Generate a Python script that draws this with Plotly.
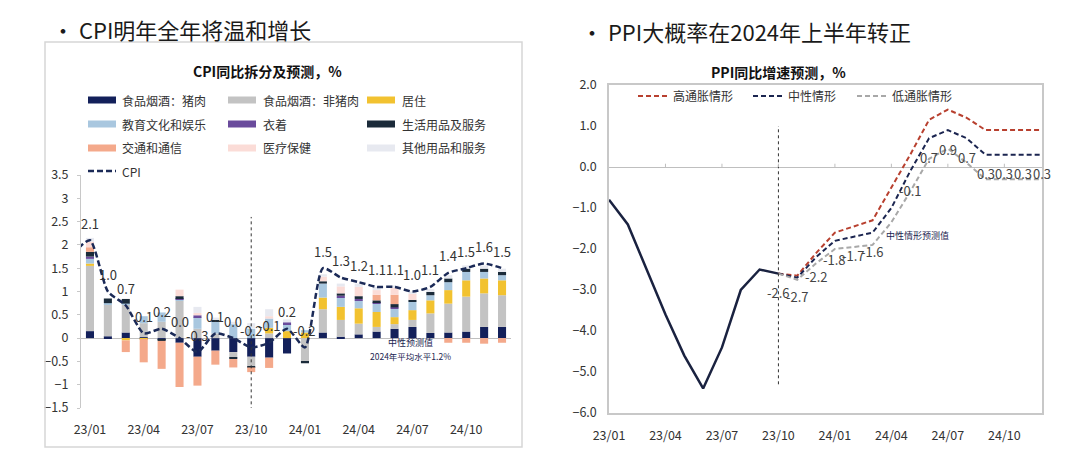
import plotly.graph_objects as go

# page body has an 8px margin: size the figure so it fits the 1080x473 window
OFF = 8
W, H = 1080 - OFF, 473 - OFF
def px(x):
    return (x - OFF) / W
def py(y):
    return 1 - (y - OFF) / H

# ---------------- data: CPI ----------------
months = ['23/01', '23/02', '23/03', '23/04', '23/05', '23/06', '23/07', '23/08', '23/09', '23/10', '23/11', '23/12',
          '24/01', '24/02', '24/03', '24/04', '24/05', '24/06', '24/07', '24/08', '24/09', '24/10', '24/11', '24/12']
tick_months = ['23/01', '23/04', '23/07', '23/10', '24/01', '24/04', '24/07', '24/10']

cpi_months = ['22/12'] + months
cpi = [1.8, 2.1, 1.0, 0.7, 0.1, 0.2, 0.0, -0.3, 0.1, 0.0, -0.2, -0.1, 0.2,
       -0.2, 1.5, 1.3, 1.2, 1.1, 1.1, 1.0, 1.1, 1.4, 1.5, 1.6, 1.5]

comp_names = ['食品烟酒：猪肉', '食品烟酒：非猪肉', '居住', '教育文化和娱乐', '衣着',
              '生活用品及服务', '交通和通信', '医疗保健', '其他用品和服务']
pork = [0.15, 0.04, 0.12, 0.02, -0.03, -0.10, -0.40, -0.27, -0.30, -0.40, -0.42, -0.33,
        0.00, 0.12, 0.03, 0.08, 0.14, 0.20, 0.24, 0.11, 0.12, 0.14, 0.24, 0.24]
nonpork = [1.40, 0.68, 0.60, 0.30, 0.35, 0.80, 0.20, 0.10, -0.12, -0.20, 0.10, 0.00,
           -0.50, 0.50, 0.36, 0.23, 0.10, 0.10, 0.15, 0.42, 0.62, 0.75, 0.72, 0.68]
housing = [0.05, 0.00, -0.05, -0.02, 0.00, 0.00, 0.00, 0.00, 0.00, 0.00, 0.12, 0.15,
           0.12, 0.25, 0.28, 0.33, 0.32, 0.15, 0.21, 0.28, 0.29, 0.35, 0.32, 0.32]
edu = [0.10, 0.03, 0.02, 0.15, 0.20, 0.02, 0.25, 0.25, 0.30, 0.20, 0.20, 0.15,
       0.05, 0.30, 0.20, 0.17, 0.18, 0.18, 0.18, 0.11, 0.17, 0.18, 0.14, 0.11]
clothing = [0.05, 0.00, 0.00, 0.00, 0.00, 0.04, 0.04, 0.00, 0.00, 0.00, 0.00, 0.04,
            0.00, 0.00, 0.04, 0.03, 0.03, 0.03, 0.00, 0.00, 0.00, 0.00, 0.00, 0.00]
household = [0.10, 0.10, 0.10, 0.00, -0.03, 0.04, 0.00, 0.04, -0.03, -0.03, 0.00, 0.00,
             -0.04, 0.05, 0.05, 0.06, 0.04, 0.07, 0.04, 0.07, 0.08, 0.07, 0.07, 0.07]
transport = [0.10, 0.00, -0.25, -0.50, -0.60, -0.95, -0.62, -0.30, -0.18, -0.10, -0.22, 0.00,
             0.00, 0.00, 0.00, 0.00, 0.12, 0.20, 0.00, 0.00, -0.10, -0.10, -0.12, -0.10]
medical = [0.12, 0.00, 0.00, 0.00, 0.00, 0.14, 0.05, 0.00, 0.00, 0.00, 0.05, 0.00,
           0.00, 0.10, 0.15, 0.20, 0.10, 0.15, 0.13, 0.00, 0.00, 0.00, 0.00, 0.00]
other = [0.08, 0.00, 0.00, 0.00, 0.00, 0.00, 0.13, 0.05, 0.05, 0.12, 0.15, 0.06,
         0.00, 0.05, 0.06, 0.07, 0.07, 0.05, 0.05, 0.06, 0.07, 0.07, 0.07, 0.07]
comp_values = [pork, nonpork, housing, edu, clothing, household, transport, medical, other]
comp_colors = ['#13205a', '#c3c3c3', '#f2c230', '#a9c7df', '#6a4b9c',
               '#1b2b3a', '#f4a98b', '#fbdcd7', '#e7e9f0']

# ---------------- data: PPI ----------------
ppi_months = ['23/01', '23/02', '23/03', '23/04', '23/05', '23/06', '23/07', '23/08', '23/09', '23/10']
ppi_actual = [-0.8, -1.4, -2.5, -3.6, -4.6, -5.4, -4.4, -3.0, -2.5, -2.6]
fc_months = ['23/10', '23/11', '23/12', '24/01', '24/02', '24/03', '24/04', '24/05',
             '24/06', '24/07', '24/08', '24/09', '24/10', '24/11', '24/12']
ppi_high = [-2.6, -2.65, -2.1, -1.6, -1.45, -1.3, -0.5, 0.3, 1.15, 1.4, 1.2, 0.9, 0.9, 0.9, 0.9]
ppi_mid = [-2.6, -2.7, -2.2, -1.8, -1.7, -1.6, -1.0, -0.1, 0.7, 0.9, 0.7, 0.3, 0.3, 0.3, 0.3]
ppi_low = [-2.6, -2.75, -2.35, -2.0, -1.95, -1.9, -1.35, -0.6, 0.2, 0.45, 0.1, -0.3, -0.3, -0.3, -0.3]
mid_label_months = ['23/10', '23/11', '23/12', '24/01', '24/02', '24/03', '24/05',
                    '24/06', '24/07', '24/08', '24/09', '24/10', '24/11', '24/12']
scen_names = ['高通胀情形', '中性情形', '低通胀情形']
scen_colors = ['#b8402f', '#1b2550', '#a8a8a8']


def pos(m):
    yy, mm = m.split('/')
    return (int(yy) - 23) * 12 + int(mm) - 1


FONT = 'Noto Sans CJK SC, Noto Sans, sans-serif'
fig = go.Figure()

# ---- CPI stacked bars ----
xs = [pos(m) for m in months]
for name, vals, col in zip(comp_names, comp_values, comp_colors):
    fig.add_trace(go.Bar(x=xs, y=vals, name=name, marker_color=col, marker_line_width=0,
                         width=0.45, xaxis='x', yaxis='y', showlegend=False))

fig.add_trace(go.Scatter(x=[pos(m) for m in cpi_months], y=cpi, mode='lines', name='CPI',
                         line=dict(color='#1b2a57', width=2.5, dash='6px,3px', shape='spline', smoothing=0.6),
                         xaxis='x', yaxis='y', showlegend=False))

annotations = []
for m, v in zip(cpi_months, cpi):
    if m in months:
        annotations.append(dict(x=pos(m), y=v, xref='x', yref='y', text=f'{v:.1f}', showarrow=False,
                                yshift=17, font=dict(family=FONT, size=13, color='#333')))

# ---- PPI lines ----
fig.add_trace(go.Scatter(x=[pos(m) for m in ppi_months], y=ppi_actual, mode='lines', name='PPI',
                         line=dict(color='#1a2240', width=2.5), xaxis='x2', yaxis='y2', showlegend=False))
for name, vals, col in zip(scen_names, [ppi_high, ppi_mid, ppi_low], scen_colors):
    fig.add_trace(go.Scatter(x=[pos(m) for m in fc_months], y=vals, mode='lines', name=name,
                             line=dict(color=col, width=2, dash='5px,3px'),
                             xaxis='x2', yaxis='y2', showlegend=False))
for m in mid_label_months:
    v = ppi_mid[fc_months.index(m)]
    annotations.append(dict(x=pos(m), y=v, xref='x2', yref='y2', text=f'{v:.1f}', showarrow=False,
                            yshift=-19, font=dict(family=FONT, size=13, color='#444')))

# ---- text: headers, titles ----
annotations += [
    dict(x=px(50), y=py(29), xref='paper', yref='paper', text='• CPI明年全年将温和增长', showarrow=False,
         xanchor='left', yanchor='middle', font=dict(family=FONT, size=22, color='#1a1a1a')),
    dict(x=px(579), y=py(31), xref='paper', yref='paper', text='• PPI大概率在2024年上半年转正', showarrow=False,
         xanchor='left', yanchor='middle', font=dict(family=FONT, size=22, color='#1a1a1a')),
    dict(x=px(267), y=py(71), xref='paper', yref='paper', text='<b>CPI同比拆分及预测，%</b>', showarrow=False,
         xanchor='center', yanchor='middle', font=dict(family=FONT, size=14, color='#111')),
    dict(x=px(778), y=py(72), xref='paper', yref='paper', text='<b>PPI同比增速预测，%</b>', showarrow=False,
         xanchor='center', yanchor='middle', font=dict(family=FONT, size=14, color='#111')),
    dict(x=17.9, y=-0.1, xref='x', yref='y', text='中性预测值', showarrow=False,
         font=dict(family=FONT, size=9, color='#1b2550')),
    dict(x=17.9, y=-0.38, xref='x', yref='y', text='2024年平均水平1.2%', showarrow=False,
         font=dict(family=FONT, size=8.5, color='#1b2550')),
    dict(x=16.4, y=-1.66, xref='x2', yref='y2', text='中性情形预测值', showarrow=False,
         font=dict(family=FONT, size=9, color='#1b2550')),
]

shapes = []
# left outer box
shapes.append(dict(type='rect', xref='paper', yref='paper', x0=px(45), x1=px(522), y0=py(447), y1=py(42),
                   line=dict(color='#d6d6d6', width=1.5)))

# left manual legend
leg_cols_sw = [88, 228, 367]
leg_cols_tx = [120, 261, 400]
leg_rows = [100, 124, 148]
for i, (name, col) in enumerate(zip(comp_names, comp_colors)):
    r, c = divmod(i, 3)
    yy = leg_rows[r]
    shapes.append(dict(type='rect', xref='paper', yref='paper', x0=px(leg_cols_sw[c]), x1=px(leg_cols_sw[c] + 28),
                       y0=py(yy + 3.5), y1=py(yy - 3.5), line=dict(width=0), fillcolor=col))
    annotations.append(dict(x=px(leg_cols_tx[c]), y=py(yy), xref='paper', yref='paper', text=name, showarrow=False,
                            xanchor='left', yanchor='middle', font=dict(family=FONT, size=12, color='#333')))
shapes.append(dict(type='line', xref='paper', yref='paper', x0=px(88), x1=px(116), y0=py(171), y1=py(171),
                   line=dict(color='#1b2a57', width=2.5, dash='6px,3px')))
annotations.append(dict(x=px(120), y=py(171), xref='paper', yref='paper', text='CPI', showarrow=False,
                        xanchor='left', yanchor='middle', font=dict(family=FONT, size=12, color='#333')))

# right manual legend
rl_sw = [638, 753, 857]
rl_tx = [671, 786, 890]
for name, col, s, t in zip(scen_names, scen_colors, rl_sw, rl_tx):
    shapes.append(dict(type='line', xref='paper', yref='paper', x0=px(s), x1=px(s + 30), y0=py(96), y1=py(96),
                       line=dict(color=col, width=2, dash='5px,3px')))
    annotations.append(dict(x=px(t), y=py(96), xref='paper', yref='paper', text=name, showarrow=False,
                            xanchor='left', yanchor='middle', font=dict(family=FONT, size=12, color='#333')))

# dotted separators at 23/10
shapes.append(dict(type='line', xref='x', yref='y', x0=pos('23/10'), x1=pos('23/10'), y0=-1.55, y1=2.6,
                   line=dict(color='#333', width=1, dash='dot')))
shapes.append(dict(type='line', xref='x2', yref='y2', x0=pos('23/10'), x1=pos('23/10'), y0=-5.3, y1=1.0,
                   line=dict(color='#333', width=1, dash='dot')))
# small tick marks on right zero line
for m in tick_months[1:]:
    shapes.append(dict(type='line', xref='x2', yref='y2', x0=pos(m), x1=pos(m), y0=0, y1=0.08,
                       line=dict(color='#bfbfbf', width=1)))

fig.update_layout(
    width=W, height=H, margin=dict(l=0, r=0, t=0, b=0, pad=0, autoexpand=False),
    paper_bgcolor='white', plot_bgcolor='white', barmode='relative',
    font=dict(family=FONT, size=12, color='#333'),
    annotations=annotations, shapes=shapes,
    xaxis=dict(domain=[px(81), px(511)], range=[-0.5, 23.5], tickvals=[pos(m) for m in tick_months],
               ticktext=tick_months, showgrid=False, zeroline=False, showline=False, ticks='',
               automargin=False, ticklabelstandoff=12, tickfont=dict(size=12.5, color='#333'), anchor='y'),
    yaxis=dict(domain=[py(408), py(175)], range=[-1.5, 3.5], dtick=0.5, showgrid=False,
               showline=True, linecolor='#c8c8c8', linewidth=1, ticks='outside', ticklen=3, tickcolor='#c8c8c8',
               zeroline=True, zerolinecolor='#bfbfbf', zerolinewidth=1.2, ticklabelstandoff=6,
               automargin=False, tickfont=dict(size=12.5, color='#333'), anchor='x'),
    xaxis2=dict(domain=[px(609), px(1042)], range=[0, 23], tickvals=[pos(m) for m in tick_months],
                ticktext=tick_months, showgrid=False, zeroline=False, showline=True, mirror=True,
                linecolor='#c8c8c8', linewidth=1.5, ticks='', ticklabelstandoff=10,
                automargin=False, tickfont=dict(size=12.5, color='#333'), anchor='y2'),
    yaxis2=dict(domain=[py(413), py(85)], range=[-6, 2], dtick=1, tickformat='.1f', showgrid=False,
                showline=True, mirror=True, linecolor='#c8c8c8', linewidth=1.5, ticks='',
                zeroline=True, zerolinecolor='#bfbfbf', zerolinewidth=1.2, ticklabelstandoff=8,
                automargin=False, tickfont=dict(size=12.5, color='#333'), anchor='x2'),
)

fig.write_html('out.html')
